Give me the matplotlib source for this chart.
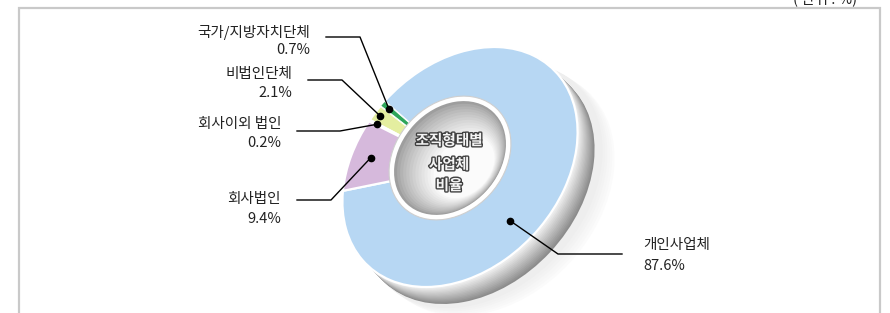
import numpy as np
import matplotlib
matplotlib.use('Agg')
import matplotlib.pyplot as plt
from matplotlib.patches import Ellipse
from matplotlib.transforms import Affine2D
import matplotlib.patheffects as pe
import matplotlib.colors as mcolors

plt.rcParams['font.family'] = ['Noto Sans CJK KR', 'DejaVu Sans']

# ---- data ----
categories = ['개인사업체', '국가/지방자치단체', '비법인단체', '회사이외 법인', '회사법인']
shares = [87.6, 0.7, 2.1, 0.2, 9.4]
share_labels = ['87.6%', '0.7%', '2.1%', '0.2%', '9.4%']
colors = ['#b7d7f3', '#2da55a', '#e4eea0', '#efe6f1', '#d6b9dc']
center_title = ['조직형태별', '사업체', '비율']
unit_note = '( 단위 : %)'

W, H = 890, 313
fig = plt.figure(figsize=(W / 100, H / 100), dpi=100)
ax = fig.add_axes([0, 0, 1, 1])


def Y(y):
    return H - y


def mix(c1, c2, t):
    a = np.array(mcolors.to_rgb(c1))
    b = np.array(mcolors.to_rgb(c2))
    return tuple(a + (b - a) * t)


CX, CY = 460, Y(167)
A, B, ROT = 135, 100, 47
ring = Affine2D().scale(A, B).rotate_deg(ROT).translate(CX, CY)

# frame
ax.plot([19, 19, 880, 880], [Y(330), Y(8), Y(8), Y(330)], color='#c9c9c9', lw=1.6,
        solid_joinstyle='miter', zorder=0)
ax.text(857, Y(6), unit_note, ha='right', va='bottom', fontsize=10.5, color='#222222')

# faint floor shadow
for k in range(6):
    t = k / 5
    ax.add_patch(Ellipse((CX + 34 - 12 * t, CY - 26 + 8 * t), 2 * A + 6, 2 * B + 6, angle=ROT,
                         facecolor=mix('#fbfbfb', '#eeeeee', t), edgecolor='none', zorder=1))
# 3D side of the ring (gradient, darker toward outside)
n = 14
for k in range(n):
    t = k / (n - 1)
    off = 17 - 15 * t
    ax.add_patch(Ellipse((CX + off, CY - off), 2 * A, 2 * B, angle=ROT,
                         facecolor=mix('#8c8c8c', '#ececec', t), edgecolor='none', zorder=1))

wedges, _ = ax.pie(shares, colors=colors, startangle=136.1, counterclock=True,
                   wedgeprops=dict(edgecolor='white', linewidth=1.6), radius=1, center=(0, 0))
for w in wedges:
    w.set_transform(ring + ax.transData)
    w.set_zorder(2)
wedges[1].set_linewidth(0.7)
wedges[1].set_zorder(2.5)

ax.set_aspect('auto')
ax.set_xlim(0, W)
ax.set_ylim(0, H)
ax.axis('off')

# hole
HX, HY = 450, Y(158)
ax.add_patch(Ellipse((HX, HY), 136, 108, angle=ROT, fc='white', ec='#cfcfcf', lw=0.8, zorder=3))
m = 14
for k in range(m):
    t = k / (m - 1)
    ax.add_patch(Ellipse((HX + 14 * t, HY - 9 * t), 126 - 56 * t, 98 - 46 * t, angle=ROT,
                         fc=mix('#9e9e9e', '#fbfbfb', t ** 0.8), ec='none', zorder=3))

for line, yy in zip(center_title, [140, 164, 185]):
    ax.text(449, Y(yy), line, ha='center', va='center', fontsize=10.5, color='#f4f4f4',
            fontweight='bold', zorder=5,
            path_effects=[pe.withStroke(linewidth=2.0, foreground='#404040')])

# leaders and labels
frac = [0.415, 0.5, 0.5, 0.5, 0.5]
rad = [0.73, 0.92, 0.94, 0.92, 0.82]
elbows = [[(622, 254), (558, 254)], [(326, 37), (360, 37)], [(308, 80), (342, 80)],
          [(297, 131), (340, 131)], [(297, 200), (331, 200)]]
text_x = [643, 310, 292, 281, 281]
text_ha = ['left', 'right', 'right', 'right', 'right']
name_y = [245, 33, 74, 124, 199]
pct_y = [266, 50, 93, 143, 219]

for i, w in enumerate(wedges):
    th = np.deg2rad(w.theta1 + frac[i] * (w.theta2 - w.theta1))
    px, py = ring.transform((rad[i] * np.cos(th), rad[i] * np.sin(th)))
    xs = [p[0] for p in elbows[i]] + [px]
    ys = [Y(p[1]) for p in elbows[i]] + [py]
    ax.plot(xs, ys, color='black', lw=1.0, zorder=6)
    ax.plot([px], [py], 'o', color='black', ms=4.5, zorder=7)
    ax.text(text_x[i], Y(name_y[i]), categories[i], ha=text_ha[i], va='center',
            fontsize=10.5, color='#222222')
    ax.text(text_x[i], Y(pct_y[i]), share_labels[i], ha=text_ha[i], va='center',
            fontsize=10.5, color='#222222')

fig.savefig('out.png', dpi=100)
